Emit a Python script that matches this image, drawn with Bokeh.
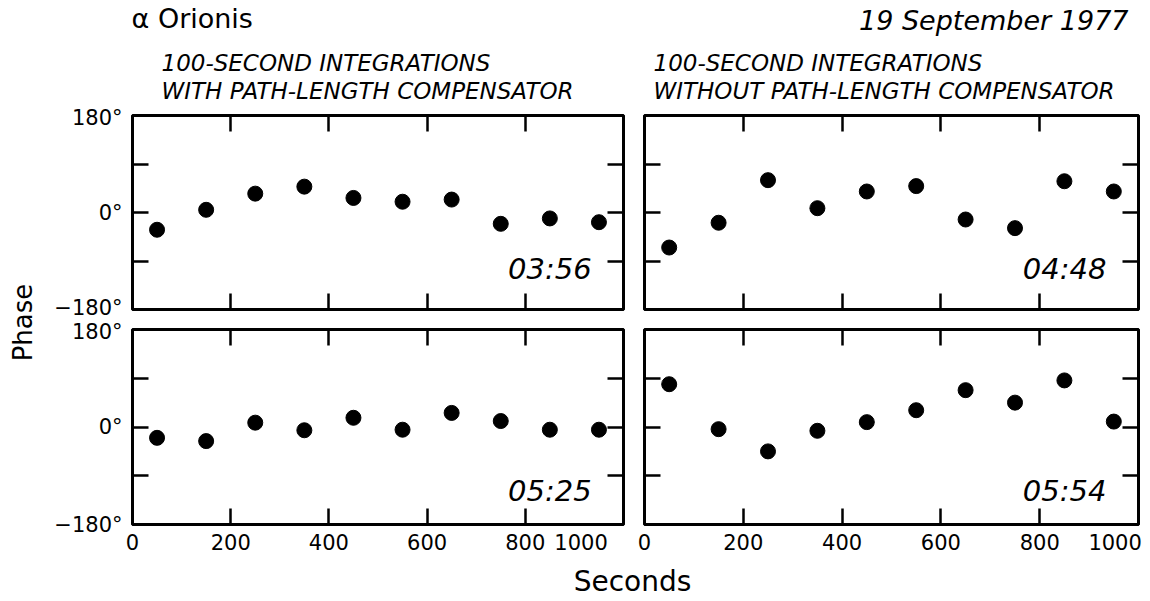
from bokeh.plotting import figure
from bokeh.models import Range1d, LinearAxis, FixedTicker
from bokeh.layouts import row, column
from bokeh.embed import file_html
from bokeh.resources import INLINE
from bokeh.core.properties import value
import math

# ---------------- data ----------------
seconds = [50, 150, 250, 350, 450, 550, 650, 750, 850, 950]
phase_0356 = [-32, 5, 35, 48, 27, 20, 24, -21, -11, -18]
phase_0448 = [-65, -19, 60, 8, 39, 49, -13, -29, 58, 39]
phase_0525 = [-20, -26, 8, -6, 17, -5, 26, 11, -5, -5]
phase_0554 = [79, -4, -45, -7, 9, 31, 68, 45, 86, 10]

panel_times = ["03:56", "04:48", "05:25", "05:54"]
x_ticks = [0, 200, 400, 600, 800, 1000]
y_ticks = [-180, -90, 0, 90, 180]
y_tick_labels = {180: "180°", 90: "", 0: "0°", -90: "", -180: "\u2212180°"}

title_left = "\u03b1 Orionis"
title_right = "19 September 1977"
sub_left = ["100-SECOND INTEGRATIONS", "WITH PATH-LENGTH COMPENSATOR"]
sub_right = ["100-SECOND INTEGRATIONS", "WITHOUT PATH-LENGTH COMPENSATOR"]
x_title = "Seconds"
y_title = "Phase"

FONT = "DejaVu Sans"
NB = "\u00a0"


def base_fig(width, height, xr, yr):
    p = figure(width=width, height=height, x_range=xr, y_range=yr,
               output_backend="svg", toolbar_location=None,
               x_axis_location=None, y_axis_location=None,
               min_border=0, outline_line_color=None,
               background_fill_color="white", border_fill_color="white")
    p.grid.visible = False
    return p


def axis(ticks, overrides, show, standoff):
    return LinearAxis(
        ticker=FixedTicker(ticks=ticks),
        major_label_overrides=overrides,
        axis_line_color=None,
        major_tick_in=16, major_tick_out=0,
        major_tick_line_width=2.5, major_tick_line_color="black",
        minor_tick_line_color=None,
        major_label_text_font=FONT,
        major_label_text_font_size="21px" if show else "0px",
        major_label_text_color="black",
        major_label_standoff=standoff if show else 0,
    )


def panel(values, label, width, height, mb_left, mb_right, mb_bottom,
          show_y, show_x, x_over, label_y):
    p = figure(width=width, height=height,
               x_range=Range1d(0, 1000), y_range=Range1d(-180, 180),
               output_backend="svg", toolbar_location=None,
               x_axis_location=None, y_axis_location=None,
               min_border_left=mb_left, min_border_right=mb_right,
               min_border_top=10, min_border_bottom=mb_bottom,
               background_fill_color="white", border_fill_color="white")
    p.grid.visible = False
    p.outline_line_color = "black"
    p.outline_line_width = 3
    empty_y = {t: "" for t in y_ticks}
    empty_x = {t: "" for t in x_ticks}
    p.add_layout(axis(y_ticks, y_tick_labels if show_y else empty_y, show_y, 10), "left")
    p.add_layout(axis(y_ticks, empty_y, False, 0), "right")
    p.add_layout(axis(x_ticks, x_over if show_x else empty_x, show_x, 6), "below")
    p.add_layout(axis(x_ticks, empty_x, False, 0), "above")
    p.scatter(seconds, values, size=15, color="black")
    p.text(x=[935], y=[label_y], text=[label], text_align="right",
           text_baseline="alphabetic", text_font=value(FONT),
           text_font_style="italic", text_font_size="29px", text_color="black")
    return p


x_over_left = {0: "0", 200: "200", 400: "400", 600: "600", 800: "800", 1000: "1000" + NB * 4}
x_over_right = {0: "0", 200: "200", 400: "400", 600: "600", 800: "800", 1000: "1000" + NB * 1}

tl = panel(phase_0356, panel_times[0], 590, 214, 88, 11, 10, True, False, x_over_left, -104)
tr = panel(phase_0448, panel_times[1], 514, 214, 10, 10, 10, False, False, x_over_right, -104)
bl = panel(phase_0525, panel_times[2], 590, 244, 88, 11, 39, True, True, x_over_left, -118)
br = panel(phase_0554, panel_times[3], 514, 244, 10, 10, 39, False, True, x_over_right, -118)

# header (coordinates in pixels of the page)
header = base_fig(1148, 105, Range1d(0, 1148), Range1d(105, 0))
common = dict(text_font=value(FONT), text_color="black", text_baseline="alphabetic")
header.text(x=[131], y=[18], text=[title_left], text_align="left",
            text_font_size="27px", **common)
header.text(x=[1128], y=[20], text=[title_right], text_align="right",
            text_font_size="27px", text_font_style="italic", **common)
header.text(x=[161, 161], y=[62, 90], text=sub_left, text_align="left",
            text_font_size="23px", text_font_style="italic", **common)
header.text(x=[653, 653], y=[62, 90], text=sub_right, text_align="left",
            text_font_size="23px", text_font_style="italic", **common)

# y title column
phase_fig = base_fig(44, 458, Range1d(0, 44), Range1d(0, 458))
phase_fig.text(x=[22], y=[563 - 322], text=[y_title], angle=math.pi / 2,
               text_align="center", text_baseline="middle",
               text_font=value(FONT), text_font_size="26px", text_color="black")

# x title
footer = base_fig(1148, 36, Range1d(0, 1148), Range1d(599, 563))
footer.text(x=[632], y=[581], text=[x_title], text_align="center",
            text_font_size="28px", **common)

layout = column(header,
                row(phase_fig, column(row(tl, tr), row(bl, br))),
                footer)

open("out.html", "w").write(file_html(layout, INLINE))
